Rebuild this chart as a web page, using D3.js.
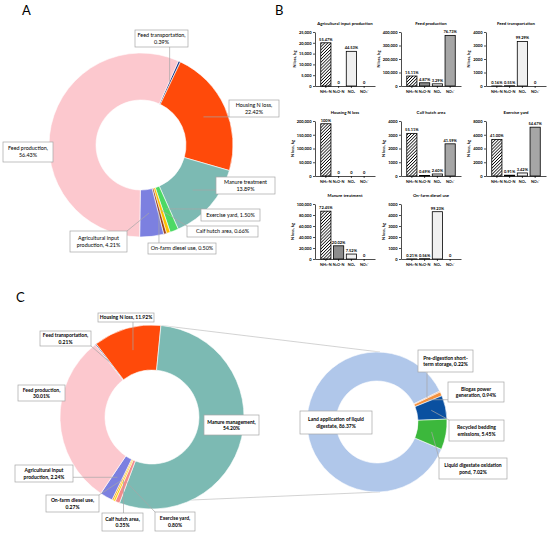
<!DOCTYPE html>
<html>
<head>
<meta charset="utf-8">
<script src="https://cdn.jsdelivr.net/npm/d3@7"></script>
<style>
  body { margin: 0; background: #fff; }
  text { font-family: Lato, "Liberation Sans", sans-serif; fill: #000; }
</style>
</head>
<body>
<script>
// ---- data ----
// N loss sources, same order in donut A and C
var sources = ["Feed transportation", "Housing N loss", "Manure", "Exercise yard", "Calf hutch area",
               "On-farm diesel use", "Agricultural input production", "Feed production"];
var sharesA = [0.39, 22.42, 13.89, 1.50, 0.66, 0.50, 4.21, 56.43];
var sharesC = [0.21, 11.92, 54.20, 0.80, 0.35, 0.27, 2.24, 30.01];

// manure management breakdown (second donut of C)
var manureParts = ["Land application of liquid digestate", "Pre-digestion short-term storage",
                   "Biogas power generation", "Recycled bedding emissions", "Liquid digestate oxidation pond"];
var manureShares = [86.37, 0.22, 0.94, 5.45, 7.02];

// panel B, N loss (kg) per gas for each source
var gases = ["NH\u2083-N", "N\u2082O-N", "NO\u2093", "NO\u2083\u207B"];
var barTitles = ["Agricultural input production", "Feed production", "Feed transportation",
                 "Housing N loss", "Calf hutch area", "Exercise yard",
                 "Manure treatment", "On-farm diesel use"];
var barValues = [
  [20000, 0, 16050, 0],
  [73850, 23800, 16080, 375000],
  [5.3, 18, 3300, 0],
  [190000, 0, 0, 0],
  [3100, 39, 147, 2340],
  [5325, 118, 444, 7100],
  [87000, 24000, 9000, 0],
  [9, 24, 4300, 0]
];
var barLabels = [
  ["55.47%", "0", "44.53%", "0"],
  ["15.11%", "4.87%", "3.29%", "76.73%"],
  ["0.16%", "0.55%", "99.29%", "0"],
  ["100%", "0", "0", "0"],
  ["55.11%", "0.69%", "2.60%", "41.59%"],
  ["41.00%", "0.91%", "3.42%", "54.67%"],
  ["72.45%", "20.02%", "7.52%", "0"],
  ["0.21%", "0.56%", "99.23%", "0"]
];
var yMax  = [25000, 400000, 4000, 200000, 4000, 8000, 100000, 5000];
var yStep = [5000, 100000, 1000, 50000, 1000, 2000, 20000, 1000];

// ---- svg ----
var width = 550, height = 536;
var svg = d3.select("body").append("svg")
    .attr("width", width)
    .attr("height", height);

var defs = svg.append("defs");
var hatch = defs.append("pattern")
    .attr("id", "hatch")
    .attr("patternUnits", "userSpaceOnUse")
    .attr("width", 2.2).attr("height", 2.2)
    .attr("patternTransform", "rotate(45)");
hatch.append("rect").attr("width", 2.2).attr("height", 2.2).attr("fill", "#fff");
hatch.append("line").attr("x1", 0).attr("y1", 0).attr("x2", 0).attr("y2", 2.2)
    .attr("stroke", "#000").attr("stroke-width", 1.5);

// panel letters
[["A", 22, 15], ["B", 275, 15], ["C", 16, 302]].forEach(function(p) {
  svg.append("text").attr("x", p[1]).attr("y", p[2])
      .attr("font-size", 13).text(p[0]);
});

// ---- donut helper ----
function donut(shares, cx, cy, r0, r1, startDeg, colors, labels, fontOpts) {
  var start = startDeg * Math.PI / 180;
  var pie = d3.pie().sort(null).value(function(d) { return d; })
      .startAngle(start).endAngle(start + 2 * Math.PI);
  var arc = d3.arc().innerRadius(r0).outerRadius(r1);
  var arcs = pie(shares);
  var g = svg.append("g").attr("transform", "translate(" + cx + "," + cy + ")");
  g.selectAll("path")
    .data(arcs)
    .enter().append("path")
      .attr("d", arc)
      .attr("fill", function(d, i) { return colors[i]; })
      .attr("stroke", "#fff")
      .attr("stroke-width", 0.6);

  // label boxes with leader lines
  labels.forEach(function(l) {
    if (l.lead) {
      var c = arc.centroid(arcs[l.i]);
      var tx = cx + c[0], ty = cy + c[1];
      var sx = Math.max(l.box[0], Math.min(tx, l.box[0] + l.box[2]));
      var sy = Math.max(l.box[1], Math.min(ty, l.box[1] + l.box[3]));
      svg.append("line")
          .attr("x1", sx).attr("y1", sy).attr("x2", tx).attr("y2", ty)
          .attr("stroke", "#a6a6a6").attr("stroke-width", 0.7);
    }
    svg.append("rect")
        .attr("x", l.box[0]).attr("y", l.box[1])
        .attr("width", l.box[2]).attr("height", l.box[3])
        .attr("fill", "#fff")
        .attr("stroke", "#a6a6a6").attr("stroke-width", 0.7);
    var lh = fontOpts.size * 1.3;
    var y0 = l.box[1] + l.box[3] / 2 - (l.lines.length - 1) * lh / 2 + fontOpts.size * 0.35;
    l.lines.forEach(function(t, j) {
      svg.append("text")
          .attr("x", l.box[0] + l.box[2] / 2)
          .attr("y", y0 + j * lh)
          .attr("text-anchor", "middle")
          .attr("font-size", fontOpts.size)
          .attr("font-weight", fontOpts.weight)
          .text(t);
    });
  });
  return arcs;
}

// ---- panel A ----
var colorsA = ["#1f3b8c", "#ff4a0a", "#7cbab3", "#4cd964", "#ffc000", "#a0441a", "#7c80e0", "#fcc8ce"];
var labelsA = [
  {i: 0, box: [135, 30, 53, 17], lines: ["Feed transportation,", "0.39%"], lead: true},
  {i: 1, box: [229, 100, 50, 17], lines: ["Housing N loss,", "22.42%"], lead: true},
  {i: 2, box: [216, 177, 59, 17], lines: ["Manure treatment", "13.89%"], lead: true},
  {i: 3, box: [201, 209, 59, 12], lines: ["Exercise yard, 1.50%"], lead: true},
  {i: 4, box: [187, 226, 71, 11], lines: ["Calf hutch area, 0.66%"], lead: true},
  {i: 5, box: [148, 243, 68, 11], lines: ["On-farm diesel use, 0.50%"], lead: true},
  {i: 6, box: [70, 231, 57, 21], lines: ["Agricultural input", "production, 4.21%"], lead: true},
  {i: 7, box: [3, 142, 50, 20], lines: ["Feed production,", "56.43%"], lead: false}
];
donut(sharesA, 141, 145, 45, 92, 24, colorsA, labelsA, {size: 5.4, weight: "normal"});

// ---- panel C ----
var colorsC = ["#1f3b8c", "#ff4a0a", "#7cbab3", "#f48b8b", "#ffd200", "#ff9900", "#7c80e0", "#fcc8ce"];
var cx1 = 152, cy1 = 417, cx2 = 377, cy2 = 422, r2 = 70;
var arcsC = (function() {
  var s = -38.1 * Math.PI / 180;
  return d3.pie().sort(null).value(function(d) { return d; })
      .startAngle(s).endAngle(s + 2 * Math.PI)(sharesC);
})();
// connector lines from manure slice to second donut
var m = arcsC[2];
[[m.startAngle, cy2 - r2], [m.endAngle, cy2 + r2]].forEach(function(p) {
  svg.append("line")
      .attr("x1", cx1 + 92 * Math.sin(p[0])).attr("y1", cy1 - 92 * Math.cos(p[0]))
      .attr("x2", cx2 + 3).attr("y2", p[1])
      .attr("stroke", "#c8c8c8").attr("stroke-width", 0.8);
});

var labelsC = [
  {i: 0, box: [40, 331, 51, 15], lines: ["Feed transportation,", "0.21%"], lead: true},
  {i: 1, box: [98, 313, 56, 9], lines: ["Housing N loss, 11.92%"], lead: true},
  {i: 2, box: [204, 415, 55, 20], lines: ["Manure management,", "54.20%"], lead: false},
  {i: 3, box: [155, 512, 40, 19], lines: ["Exercise yard,", "0.80%"], lead: true},
  {i: 4, box: [102, 513, 41, 18], lines: ["Calf hutch area,", "0.35%"], lead: true},
  {i: 5, box: [46, 495, 53, 17], lines: ["On-farm diesel use,", "0.27%"], lead: true},
  {i: 6, box: [15, 465, 58, 17], lines: ["Agricultural input", "production, 2.24%"], lead: true},
  {i: 7, box: [18, 385, 47, 16], lines: ["Feed production,", "30.01%"], lead: false}
];
donut(sharesC, cx1, cy1, 47, 92, -38.1, colorsC, labelsC, {size: 5, weight: "bold"});

var colorsC2 = ["#b0c7ea", "#e8702a", "#f4913e", "#0a50a0", "#3cb83c"];
var labelsC2 = [
  {i: 0, box: [300, 411, 72, 23], lines: ["Land application of liquid", "digestate, 86.37%"], lead: false},
  {i: 1, box: [418, 350, 55, 22], lines: ["Pre-digestion short-", "term storage, 0.22%"], lead: true},
  {i: 2, box: [448, 382, 56, 20], lines: ["Biogas power", "generation, 0.94%"], lead: true},
  {i: 3, box: [449, 420, 55, 21], lines: ["Recycled bedding", "emissions, 5.45%"], lead: true},
  {i: 4, box: [439, 458, 68, 21], lines: ["Liquid digestate oxidation", "pond, 7.02%"], lead: true}
];
donut(manureShares, cx2, cy2, 41, r2, 112.9, colorsC2, labelsC2, {size: 5, weight: "bold"});

// ---- panel B ----
var colX = [315, 401, 486];
var rows = [{top: 32, zero: 86}, {top: 121, zero: 176}, {top: 204, zero: 259}];
var barFill = ["url(#hatch)", "#8c8c8c", "#f0f0f0", "#a6a6a6"];

barTitles.forEach(function(title, k) {
  var ax = colX[k % 3], row = rows[Math.floor(k / 3)];
  var g = svg.append("g");
  var y = d3.scaleLinear().domain([0, yMax[k]]).range([row.zero, row.top]);
  var x = d3.scaleBand().domain(gases).range([ax, ax + 60])
      .paddingInner(0.2).paddingOuter(0.45);
  var fmt = yMax[k] >= 20000 ? d3.format(",") : d3.format("d");

  var yAxis = g.append("g")
      .attr("transform", "translate(" + ax + ",0)")
      .call(d3.axisLeft(y)
          .tickValues(d3.range(0, yMax[k] + 1, yStep[k]))
          .tickSize(2).tickSizeOuter(0).tickPadding(1.5)
          .tickFormat(fmt));
  yAxis.selectAll("text").attr("font-size", 4).attr("font-weight", "bold").attr("font-family", "Lato, sans-serif");
  yAxis.selectAll("path, line").attr("stroke", "#000").attr("stroke-width", 0.7);

  var xAxis = g.append("g")
      .attr("transform", "translate(0," + row.zero + ")")
      .call(d3.axisBottom(x).tickSize(2).tickSizeOuter(0).tickPadding(2));
  xAxis.selectAll("text").attr("font-size", 3.8).attr("font-weight", "bold").attr("font-family", "Lato, sans-serif");
  xAxis.selectAll("path, line").attr("stroke", "#000").attr("stroke-width", 0.7);

  g.selectAll("rect.bar")
    .data(barValues[k])
    .enter().append("rect")
      .attr("class", "bar")
      .attr("x", function(d, i) { return x(gases[i]); })
      .attr("width", x.bandwidth())
      .attr("y", function(d) { return y(d); })
      .attr("height", function(d) { return row.zero - y(d); })
      .attr("fill", function(d, i) { return barFill[i]; })
      .attr("stroke", function(d) { return d > 0 ? "#000" : "none"; })
      .attr("stroke-width", 0.8);

  g.selectAll("text.pct")
    .data(barValues[k])
    .enter().append("text")
      .attr("class", "pct")
      .attr("x", function(d, i) { return x(gases[i]) + x.bandwidth() / 2; })
      .attr("y", function(d) { return y(d) - 2; })
      .attr("text-anchor", "middle")
      .attr("font-size", 4)
      .attr("font-weight", "bold")
      .text(function(d, i) { return barLabels[k][i]; });

  g.append("text")
      .attr("x", ax + 30).attr("y", row.top - 7)
      .attr("text-anchor", "middle")
      .attr("font-size", 4.3).attr("font-weight", "bold")
      .text(title);

  // y label sits left of the widest tick label (bbox is in the axis' own coords)
  var bb = yAxis.node().getBBox();
  g.append("text")
      .attr("transform", "translate(" + (ax + bb.x - 3) + "," + ((row.top + row.zero) / 2) + ") rotate(-90)")
      .attr("text-anchor", "middle")
      .attr("font-size", 4).attr("font-weight", "bold")
      .text("N loss, kg");
});
</script>
</body>
</html>
